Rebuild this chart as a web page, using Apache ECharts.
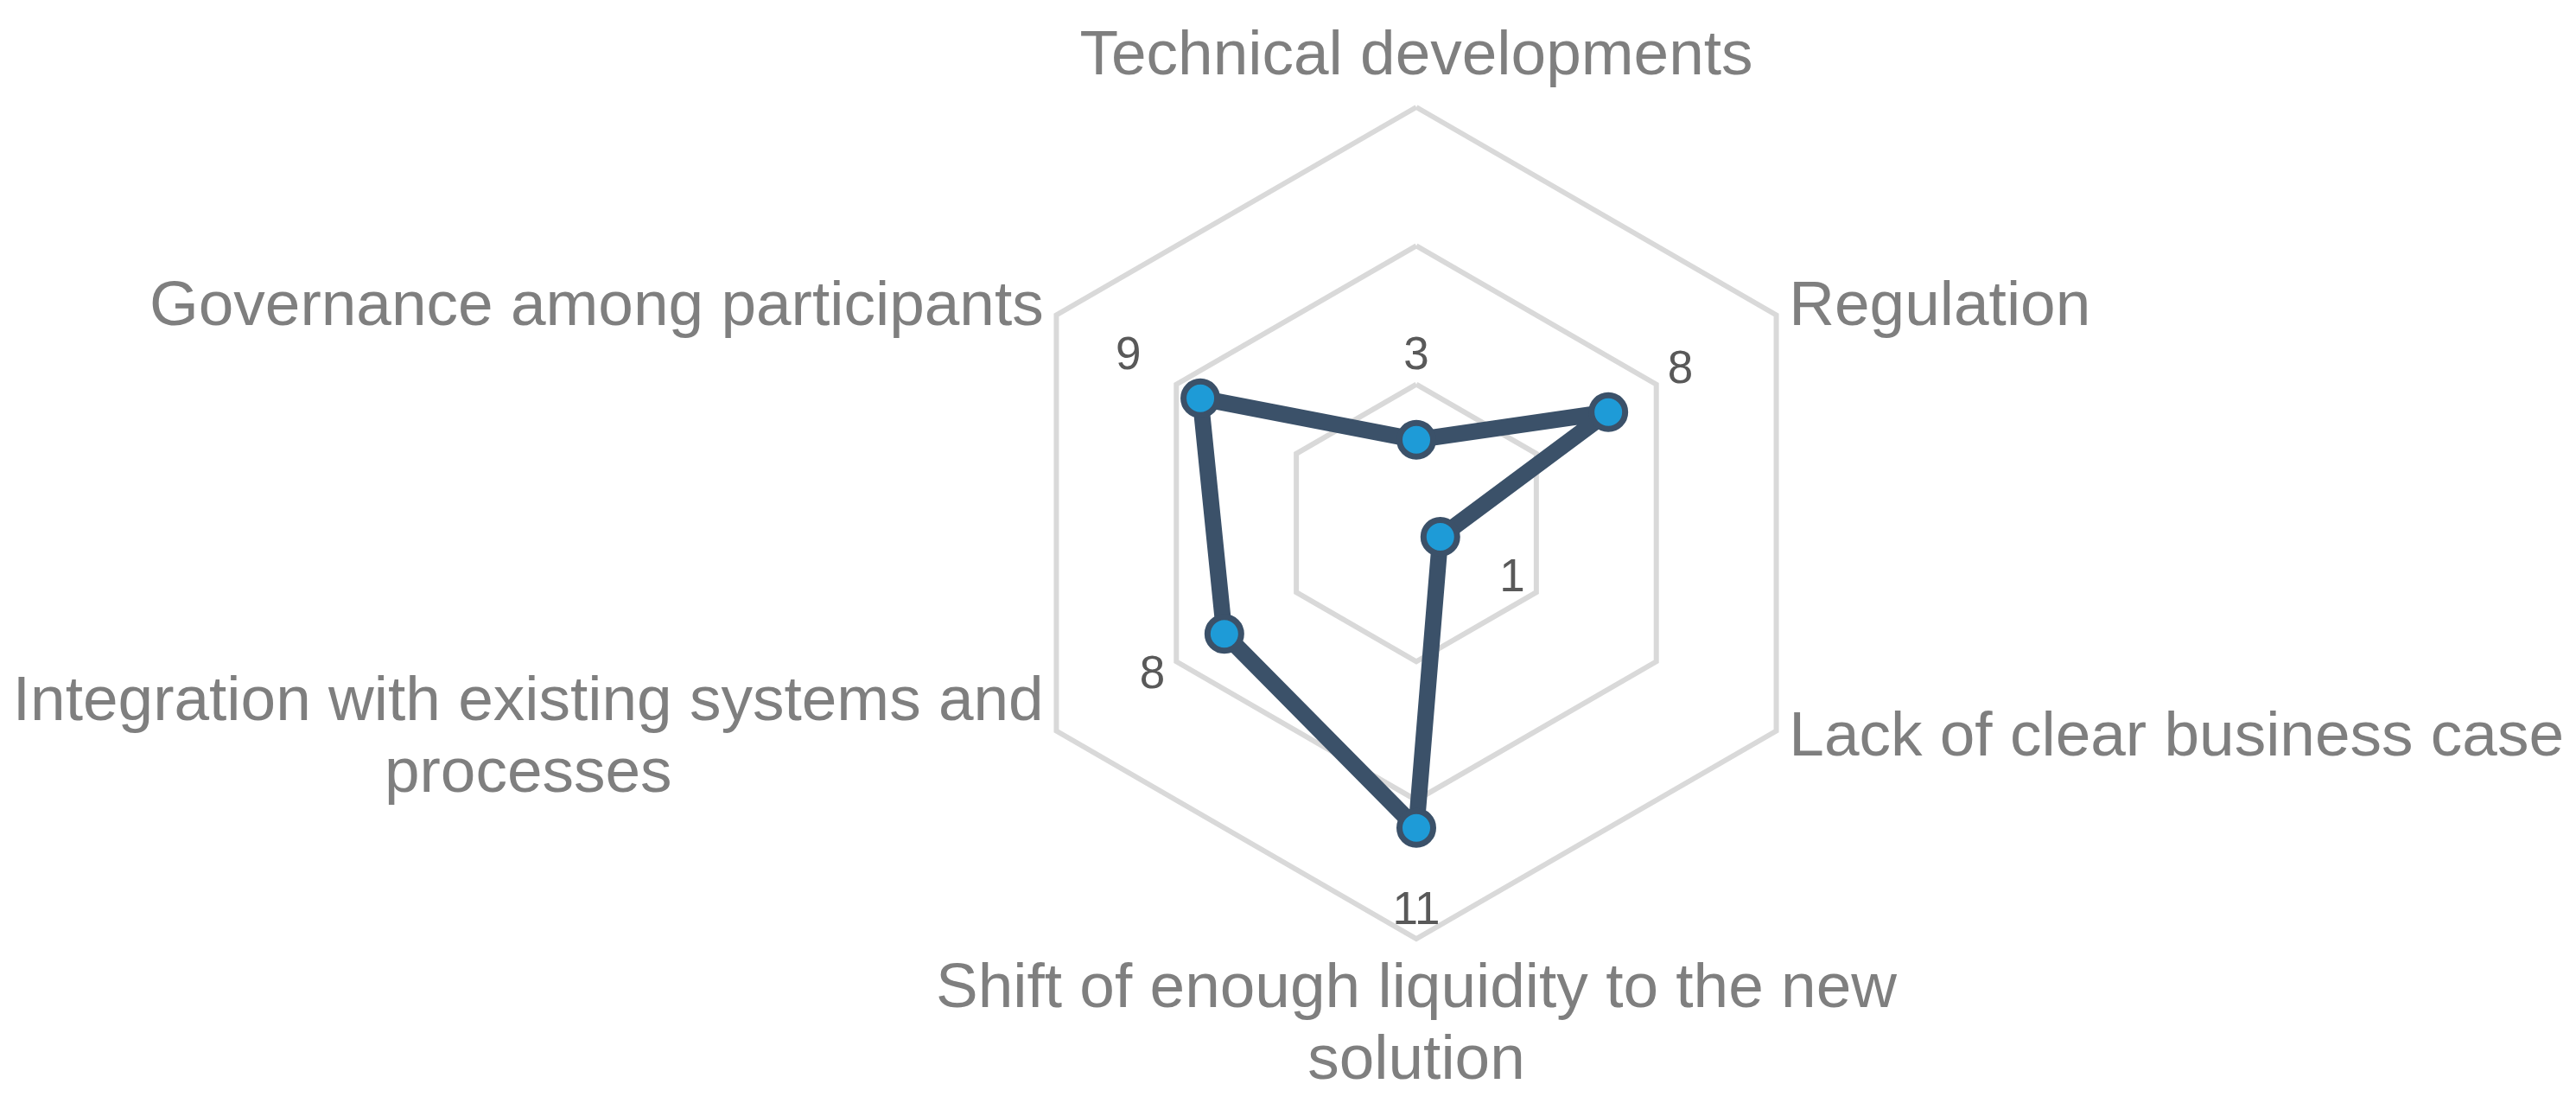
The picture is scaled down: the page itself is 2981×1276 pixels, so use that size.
<!DOCTYPE html>
<html>
<head>
<meta charset="utf-8">
<script src="https://cdn.jsdelivr.net/npm/echarts@6/dist/echarts.min.js"></script>
<style>
html,body{margin:0;padding:0;background:#fff;}
#chart{width:2981px;height:1276px;}
</style>
</head>
<body>
<div id="chart"></div>
<script>
// Axes listed counter-clockwise from the top (ECharts radar order)
const categories = [
  'Technical developments',
  'Governance among participants',
  'Integration with existing systems and\nprocesses',
  'Shift of enough liquidity to the new\nsolution',
  'Lack of clear business case',
  'Regulation'
];
const values = [3, 9, 8, 11, 1, 8];
const axisMax = 15;
const ringCount = 3;

const FONT = "'Liberation Sans', Arial, sans-serif";
const LABEL_OFFSET = 3; // label placed this many axis units outside its point

const chart = echarts.init(document.getElementById('chart'), null, {renderer: 'canvas'});
chart.setOption({
  animation: false,
  backgroundColor: '#ffffff',
  radar: {
    center: [1639, 605],
    radius: 481,
    startAngle: 90,
    shape: 'polygon',
    splitNumber: ringCount,
    nameGap: 17,
    indicator: categories.map(c => ({name: c, min: 0, max: axisMax})),
    axisName: {
      color: '#7f7f7f',
      fontSize: 73,
      lineHeight: 83,
      fontFamily: FONT,
      formatter: name => name.split('\n').map(l => '{c|' + l + '}').join('\n'),
      rich: {
        c: {align: 'center', color: '#7f7f7f', fontSize: 73, lineHeight: 83, fontFamily: FONT}
      }
    },
    splitLine: {lineStyle: {color: '#d9d9d9', width: 6}},
    splitArea: {show: false},
    axisLine: {show: false},
    axisTick: {show: false},
    axisLabel: {show: false}
  },
  series: [
    {
      type: 'radar',
      silent: true,
      z: 2,
      symbol: 'circle',
      symbolSize: 39,
      lineStyle: {color: '#3b5169', width: 19, join: 'round', cap: 'round'},
      itemStyle: {color: '#1e9bd7', borderColor: '#3b5169', borderWidth: 7},
      label: {show: false},
      data: [{value: values}]
    },
    {
      type: 'radar',
      silent: true,
      z: 3,
      symbol: 'circle',
      symbolSize: 1,
      lineStyle: {width: 0, opacity: 0},
      itemStyle: {color: 'rgba(0,0,0,0)', borderWidth: 0},
      label: {
        show: true,
        position: 'inside',
        color: '#595959',
        fontSize: 53,
        fontFamily: FONT,
        formatter: p => {
          const v = Array.isArray(p.value) ? NaN : p.value;
          return String(Math.round(v - LABEL_OFFSET));
        }
      },
      data: [{value: values.map(v => v + LABEL_OFFSET)}]
    }
  ]
});
</script>
</body>
</html>
